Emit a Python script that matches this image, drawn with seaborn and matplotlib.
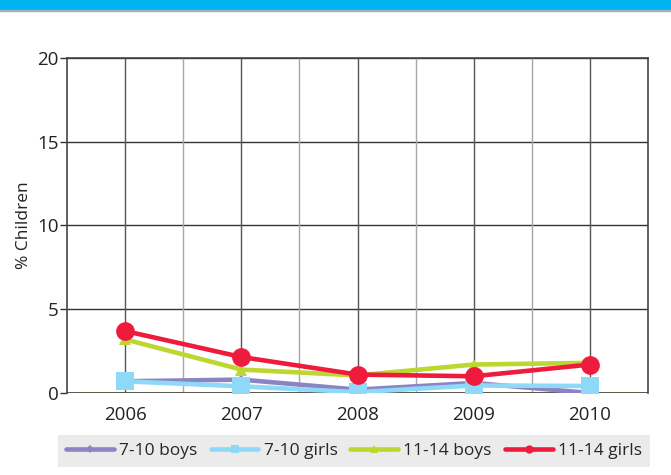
import pandas as pd
import matplotlib.pyplot as plt
import seaborn as sns
from matplotlib.lines import Line2D

years = [2006, 2007, 2008, 2009, 2010]
boys_7_10 = [0.7, 0.8, 0.2, 0.6, 0.0]
girls_7_10 = [0.7, 0.4, 0.05, 0.45, 0.42]
boys_11_14 = [3.2, 1.4, 1.05, 1.7, 1.8]
girls_11_14 = [3.7, 2.15, 1.1, 1.0, 1.7]

series = ["7-10 boys", "7-10 girls", "11-14 boys", "11-14 girls"]
values = [boys_7_10, girls_7_10, boys_11_14, girls_11_14]
colors = ["#8B84C2", "#8ED8F8", "#BDD630", "#EE1B3C"]
markers = ["D", "s", "^", "o"]
msizes = [5, 13.5, 9, 13.5]

df = pd.DataFrame({
    "year": years * len(series),
    "pct": [v for vals in values for v in vals],
    "group": [s for s in series for _ in years],
})

sns.set_style("white")
plt.rcParams["font.family"] = ["Open Sans", "DejaVu Sans"]
fs_tick = 13.5
fs = 12.5

fig = plt.figure(figsize=(6.71, 4.75), dpi=100)
ax = fig.add_axes([0.0999, 0.1726, 0.8658, 0.7054])

# cyan band on top
fig.patches.append(plt.Rectangle((0, 0.98), 1, 0.02, transform=fig.transFigure,
                                 color="#00B5EF", zorder=0))
fig.patches.append(plt.Rectangle((0, 0.976), 1, 0.004, transform=fig.transFigure,
                                 color="#9FB0B8", zorder=0))

for yv in [5, 10, 15, 20]:
    ax.axhline(yv, color="#333333", lw=1.0, zorder=0)
for xv in years:
    ax.axvline(xv, color="#555555", lw=1.0, zorder=0)
for xv in [2006.5, 2007.5, 2008.5, 2009.5]:
    ax.axvline(xv, color="#A8A8A8", lw=1.0, zorder=0)
ax.axhline(0, color="#4A4A3C", lw=1.3, zorder=1)

for s, c, m, ms in zip(series, colors, markers, msizes):
    sub = df[df["group"] == s]
    sns.lineplot(data=sub, x="year", y="pct", color=c, marker=m, markersize=ms,
                 markeredgewidth=0, linewidth=3.3, ax=ax, legend=False, zorder=3)

ax.set_xlim(2005.5, 2010.5)
ax.set_ylim(0, 20)
ax.set_yticks([0, 5, 10, 15, 20])
ax.set_xticks(years)
ax.set_xticks([2005.5, 2006.5, 2007.5, 2008.5, 2009.5, 2010.5], minor=True)
ax.tick_params(axis="x", which="major", length=0, pad=9, labelsize=fs_tick, colors="#222222")
ax.tick_params(axis="x", which="minor", length=5, width=1, color="#4A4A3C")
ax.tick_params(axis="y", which="major", length=5, width=1, color="#333333",
               pad=1, labelsize=fs_tick, labelcolor="#222222", left=True)
ax.set_xlabel("")
ax.set_ylabel("% Children", fontsize=fs, color="#222222")
ax.yaxis.set_label_coords(-0.06, 0.5)
for side in ["left", "right", "top"]:
    ax.spines[side].set_color("#444444")
    ax.spines[side].set_linewidth(1.2)
ax.spines["bottom"].set_visible(False)

handles = [Line2D([0], [0], color=c, lw=3.3, marker=m, markersize=6 if m != "D" else 4,
                  markeredgewidth=0) for c, m in zip(colors, markers)]
leg = fig.legend(handles, series, loc="center", bbox_to_anchor=(0.5276, 0.05),
                 ncol=4, frameon=True, fontsize=fs, handlelength=2.76,
                 handletextpad=0.29, columnspacing=0.75, borderpad=0.46,
                 fancybox=False)
leg.get_frame().set_facecolor("#E6E7E8")
leg.get_frame().set_edgecolor("none")

fig.savefig("out.png", dpi=100)
